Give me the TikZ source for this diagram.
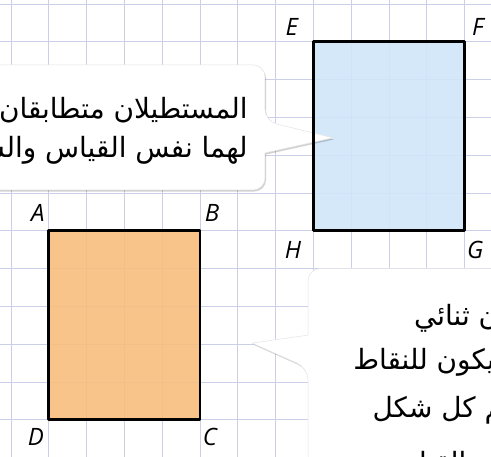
\documentclass[tikz,border=0pt]{standalone}
\usepackage{fontspec}
\usetikzlibrary{shadows}
\TeXXeTstate=1
\newfontfamily\arabicfont[Script=Arabic]{DejaVu Sans}
\newfontfamily\lblfont{Open Sans}
\definecolor{gridblue}{RGB}{203,208,232}
\definecolor{rectorange}{RGB}{248,190,126}
\definecolor{rectblue}{RGB}{208,229,249}

\begin{document}
\begin{tikzpicture}[line cap=round, line join=round,
  gridline/.style={draw=gridblue, line width=0.65pt},
  lbl/.style={font=\lblfont\itshape\fontsize{18}{20}\selectfont, inner sep=0pt},
  callout/.style={fill=white, draw=black!10, line width=0.4pt,
    drop shadow={shadow xshift=0.8pt, shadow yshift=-1.2pt, opacity=0.18, fill=black}},
  say/.style={font=\arabicfont\fontsize{21}{24}\selectfont, inner sep=0pt}]
\useasboundingbox (-0.29,0.106) rectangle (12.70,-11.96);
\clip (-0.29,0.106) rectangle (12.70,-11.96);
\fill[white] (-0.29,0.106) rectangle (12.70,-11.96);
\draw[gridline] (-1,1) grid (14,-13);

% corners of the two rectangles
\coordinate (A) at (1,-6); \coordinate (B) at (5,-6);
\coordinate (C) at (5,-11); \coordinate (D) at (1,-11);
\coordinate (E) at (8,-1); \coordinate (F) at (12,-1);
\coordinate (G) at (12,-6); \coordinate (H) at (8,-6);

\fill[rectorange, opacity=0.9] (A) rectangle (C);
\fill[rectblue, opacity=0.88] (E) rectangle (G);

% callouts
\draw[callout] (8.52,-3.54) -- (6.72,-3.94) [rounded corners=9pt] -- (6.72,-4.92) -- (-1,-4.92)
  -- (-1,-1.61) -- (6.72,-1.61) -- (6.72,-3.10) [sharp corners] -- cycle;
\draw[callout] (6.38,-8.97) -- (7.86,-8.76) [rounded corners=9pt] -- (7.86,-7.0) -- (14,-7.0)
  -- (14,-13) -- (7.86,-13) -- (7.86,-9.63) [sharp corners] -- cycle;

\draw[line width=2pt] (A) -- (B) -- (C) -- (D) -- cycle;
\draw[line width=2pt] (E) -- (F) -- (G) -- (H) -- cycle;

% vertex labels
\node[lbl] (lA) at ([shift={(-0.29,0.47)}]A) {A};
\node[lbl] (lB) at ([shift={(0.32,0.47)}]B) {B};
\node[lbl] (lC) at ([shift={(0.26,-0.46)}]C) {C};
\node[lbl] (lD) at ([shift={(-0.34,-0.46)}]D) {D};
\node[lbl] (lE) at ([shift={(-0.57,0.39)}]E) {E};
\node[lbl] (lF) at ([shift={(0.35,0.39)}]F) {F};
\node[lbl] (lG) at ([shift={(0.28,-0.50)}]G) {G};
\node[lbl] (lH) at ([shift={(-0.54,-0.50)}]H) {H};

% callout texts
\node[say, anchor=east] (s1a) at (6.27,-2.80) {\beginR المستطيلان متطابقان\endR};
\node[say, anchor=east] (s1b) at (6.27,-3.86) {\beginR لهما نفس القياس والشكل\endR};
\node[say, anchor=west] (s2a) at (10.66,-8.31) {\beginR يكون الشكلان ثنائي\endR};
\node[say, anchor=west] (s2b) at (9.05,-9.42) {\beginR الأبعاد متطابقين عندما يكون للنقاط\endR};
\node[say, anchor=west] (s2c) at (9.56,-10.74) {\beginR المتناظرة في رسم كل شكل\endR};
\node[say, anchor=west] (s2d) at (9.89,-12.2) {\beginR نفس الشكل والقياس\endR};
\end{tikzpicture}
\end{document}
